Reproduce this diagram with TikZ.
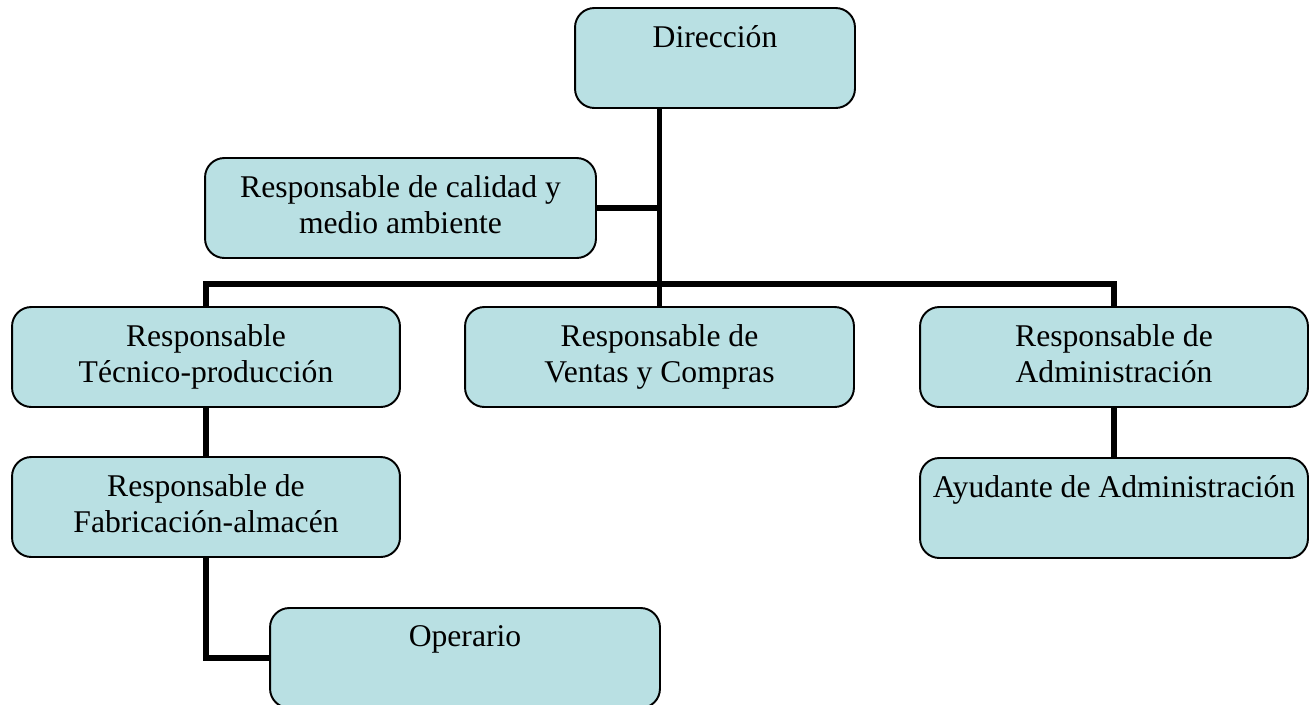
\documentclass[tikz,border=0pt]{standalone}
\usepackage{fontspec}
\setmainfont{Liberation Serif}
\usepackage{tikz}
\definecolor{boxfill}{HTML}{B9E0E3}

\begin{document}
\begin{tikzpicture}[x=0.02cm,y=-0.02cm]
                \tikzstyle{box}=[draw=black, line width=1.1pt, fill=boxfill, rounded corners=11pt, minimum height=2cm, inner sep=0pt]
                \tikzstyle{txt}=[anchor=north, inner sep=0pt, yshift=-10.5pt, align=center, font=\fontsize{18}{20.5}\selectfont]
                \tikzstyle{conn}=[line width=3.4pt, line join=miter]
                \useasboundingbox (0,0) rectangle (1312,704);
                % boxes
                \node [box, minimum width=5.6cm] (dir) at (715,58) {};
                \node [box, minimum width=7.82cm] (cal) at (400.5,208) {};
                \node [box, minimum width=7.76cm] (tec) at (206,357) {};
                \node [box, minimum width=7.78cm] (ven) at (659.5,357) {};
                \node [box, minimum width=7.76cm] (adm) at (1114,357) {};
                \node [box, minimum width=7.76cm] (fab) at (206,507) {};
                \node [box, minimum width=7.76cm] (ayu) at (1114,508) {};
                \node [box, minimum width=7.8cm] (ope) at (465,658) {};
                % texts
                \node [txt] (dirt) at (dir.north) {Dirección};
                \node [txt] (calt) at (cal.north) {Responsable de calidad y\\medio ambiente};
                \node [txt] (tect) at (tec.north) {Responsable\\Técnico-producción};
                \node [txt] (vent) at (ven.north) {Responsable de\\Ventas y Compras};
                \node [txt] (admt) at (adm.north) {Responsable de\\Administración};
                \node [txt] (fabt) at (fab.north) {Responsable de\\Fabricación-almacén};
                \node [txt] (ayut) at (ayu.north) {Ayudante de Administración};
                \node [txt] (opet) at (ope.north) {Operario};
                % connectors
                \coordinate (bus) at (659.5,284);
                \draw [conn] (ven.north |- dir.south) -- (ven.north);
                \draw [conn] (cal.east) -- (cal.east -| ven.north);
                \draw [conn] (tec.north) |- (bus) -| (adm.north);
                \draw [conn] (tec.south) -- (fab.north);
                \draw [conn] (adm.south) -- (adm.south |- ayu.north);
                \draw [conn] (fab.south) |- (ope.west);
\end{tikzpicture}
\end{document}
